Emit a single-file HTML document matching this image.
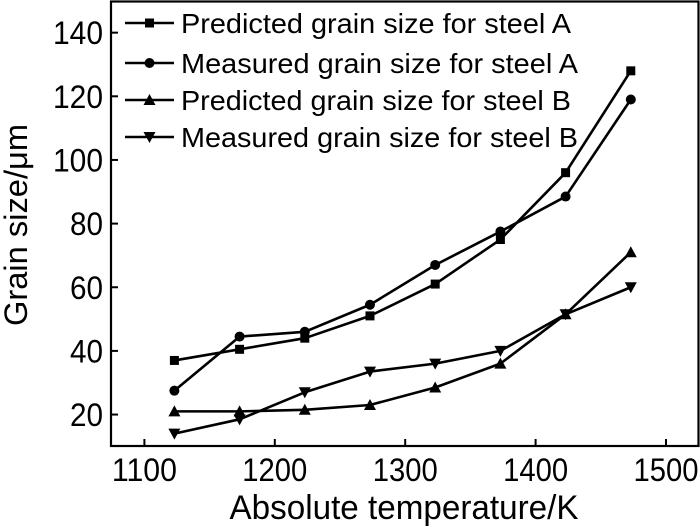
<!DOCTYPE html>
<html><head><meta charset="utf-8"><style>
html,body{margin:0;padding:0;background:#fff;}
svg{display:block;font-family:"Liberation Sans",Arial,sans-serif;}
</style></head><body>
<svg id="chart" width="700" height="527" viewBox="0 0 700 527" xmlns="http://www.w3.org/2000/svg">
<rect x="111" y="1.5" width="587.5" height="444.5" fill="none" stroke="#000" stroke-width="2.2"/>
<g id="axes"></g>
<g id="series"></g>
<g id="legend"></g>
<text transform="translate(27,225) rotate(-90)" text-anchor="middle" font-size="32" textLength="202" lengthAdjust="spacingAndGlyphs">Grain size/μm</text>
<text x="404" y="519" text-anchor="middle" font-size="34" textLength="349" lengthAdjust="spacingAndGlyphs">Absolute temperature/K</text>
</svg>
<script>
const temps = [1123,1173,1223,1273,1323,1373,1423,1473];
const predA = [37,40.5,44,51,61,75,96,128];
const measA = [27.5,44.5,46,54.5,67,77.5,88.5,119];
const predB = [21,21,21.5,23,28.5,36,51.5,71];
const measB = [14,18.5,27,33.5,36,40,51.5,60];
const xTicks = [1100,1200,1300,1400,1500];
const yTicks = [20,40,60,80,100,120,140];
const seriesNames = ["Predicted grain size for steel A","Measured grain size for steel A","Predicted grain size for steel B","Measured grain size for steel B"];

const NS="http://www.w3.org/2000/svg";
const xs = v => 144.4 + (v-1100)*1.304;
const ys = v => 478.2 - v*3.1825;
function mk(tag, attrs, parent){const e=document.createElementNS(NS,tag);for(const k in attrs)e.setAttribute(k,attrs[k]);parent.appendChild(e);return e;}
const axes=document.getElementById('axes');
xTicks.forEach(t=>{
  const l=mk('line',{x1:xs(t),x2:xs(t),y1:446,y2:439,stroke:'#000','stroke-width':2},axes);
  
  
  const tx=mk('text',{x:xs(t),y:481,'text-anchor':'middle','font-size':32,textLength:65,lengthAdjust:'spacingAndGlyphs'},axes);
  tx.textContent=t;
  
  
});
yTicks.forEach(t=>{
  const l=mk('line',{x1:111,x2:118,y1:ys(t),y2:ys(t),stroke:'#000','stroke-width':2},axes);
  
  
  const tx=mk('text',{x:103,y:ys(t)+11.5,'text-anchor':'end','font-size':32,textLength:(t>=100?50:33),lengthAdjust:'spacingAndGlyphs'},axes);
  tx.textContent=t;
  
  
});
function marker(type,x,y,parent){
  let e;
  if(type===0) e=mk('rect',{x:x-4.5,y:y-4.5,width:9,height:9,fill:'#000'},parent);
  else if(type===1) e=mk('circle',{cx:x,cy:y,r:5,fill:'#000'},parent);
  else if(type===2) e=mk('polygon',{points:`${x},${y-6} ${x-6},${y+5} ${x+6},${y+5}`,fill:'#000'},parent);
  else e=mk('polygon',{points:`${x},${y+6} ${x-6},${y-5} ${x+6},${y-5}`,fill:'#000'},parent);
  return e;
}
const sg=document.getElementById('series');
const allSeries=[predA,measA,predB,measB];
const sNames=['pred-a','meas-a','pred-b','meas-b'];
allSeries.forEach((vals,i)=>{
  const g=mk('g',{},sg);
  
  
  const pl=mk('polyline',{points:vals.map((v,j)=>xs(temps[j])+','+ys(v)).join(' '),fill:'none',stroke:'#000','stroke-width':2.6,'stroke-linejoin':'round'},g);
  
  
  vals.forEach((v,j)=>{
    const m=marker(i,xs(temps[j]),ys(v),g);
    
    
  });
});
const lg=document.getElementById('legend');
const legY=[23,63,100,137];
seriesNames.forEach((n,i)=>{
  const g=mk('g',{},lg);
  
  
  mk('line',{x1:125,x2:174,y1:legY[i],y2:legY[i],stroke:'#000','stroke-width':2.6},g);
  marker(i,149.5,legY[i],g);
  const t=mk('text',{x:181,y:legY[i]+10,'font-size':28,textLength:(i===1||i===3?397:390),lengthAdjust:'spacingAndGlyphs'},g);
  t.textContent=n;
});
</script>
</body></html>
